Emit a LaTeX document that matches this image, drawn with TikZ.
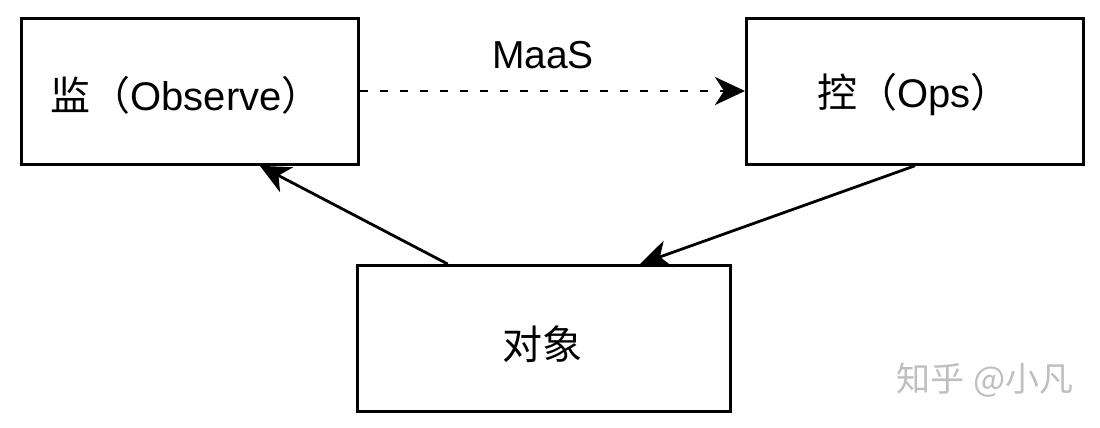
\documentclass[tikz,border=0pt]{standalone}
\usepackage{fontspec}
\setmainfont{Liberation Sans}
\newfontfamily\cjk{Noto Sans CJK SC}
\usetikzlibrary{arrows.meta,calc}
\begin{document}
\begin{tikzpicture}[x=1pt,y=-1pt,
  box/.style={draw=black,line width=2.8pt,minimum width=337pt,minimum height=146pt,inner sep=0pt},
  conn/.style={line width=2.8pt,-{Stealth[length=30pt,width=28pt,inset=9pt]}},
  lbl/.style={font=\fontsize{39}{42}\selectfont,inner sep=0pt}]
\useasboundingbox[fill=white] (0,0) rectangle (1100,428);
\node[box,anchor=north west] (obs) at (20,17) {};
\node[box,anchor=north west] (ops) at (745,17) {};
\node[box,anchor=north west,minimum width=373pt] (obj) at (356,264) {};
\node (obst) at (186,95) {\fontsize{40}{44}\selectfont{\cjk 监（}Observe{\cjk ）}};
\node (opst) at (914,95) {\fontsize{40}{44}\selectfont{\cjk 控（}Ops{\cjk ）}};
\node (objt) at (542,344) {\fontsize{40}{44}\selectfont\cjk 对象};
\draw[conn,dash pattern=on 8pt off 12pt] (obs.east |- 0,91) -- (ops.west |- 0,91);
\node[lbl,anchor=base] (maas) at (543,68) {MaaS};
\draw[conn] ($(obj.north west)!0.244!(obj.north east)$) -- ($(obs.south west)!0.706!(obs.south east)$);
\draw[conn] (ops.south) -- ($(obj.north west)!0.756!(obj.north east)$);
\node[text=black!25,font=\fontsize{34}{37}\selectfont] (wm) at (985,380) {{\cjk 知乎} {\cjk @小凡}};
\end{tikzpicture}
\end{document}
